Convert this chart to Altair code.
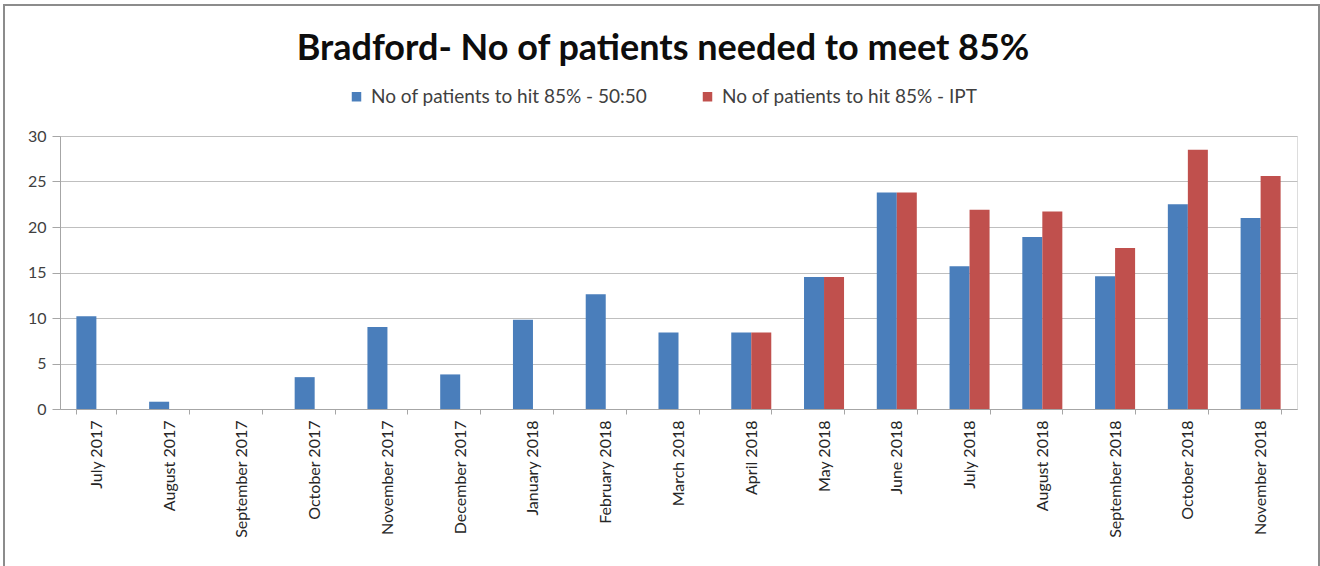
import altair as alt
import pandas as pd

months = [
    "July 2017", "August 2017", "September 2017", "October 2017",
    "November 2017", "December 2017", "January 2018", "February 2018",
    "March 2018", "April 2018", "May 2018", "June 2018", "July 2018",
    "August 2018", "September 2018", "October 2018", "November 2018",
]
series_5050 = "No of patients to hit 85% - 50:50"
series_ipt = "No of patients to hit 85% - IPT"
chart_title = "Bradford- No of patients needed to meet 85%"

# 50:50 split, one value per month
values_5050 = [10.2, 0.8, 0.0, 3.5, 9.0, 3.8, 9.8, 12.6, 8.4, 8.4,
               14.5, 23.8, 15.7, 18.9, 14.6, 22.5, 21.0]
# IPT figures only start in April 2018
ipt_months = months[9:]
values_ipt = [8.4, 14.5, 23.8, 21.9, 21.7, 17.7, 28.5, 25.6]

rows = [{"month": m, "series": series_5050, "value": v} for m, v in zip(months, values_5050)]
rows += [{"month": m, "series": series_ipt, "value": v} for m, v in zip(ipt_months, values_ipt)]
df = pd.DataFrame(rows)

W, H = 1237, 273
FONT = "Lato"

bars = alt.Chart(df).mark_bar().encode(
    x=alt.X(
        "month:N", sort=months, title=None,
        scale=alt.Scale(paddingInner=0.45, paddingOuter=0.225),
        axis=alt.Axis(
            labelAngle=-90, labelAlign="right", labelBaseline="middle",
            labelFontSize=16, labelColor="#262626", labelFont=FONT,
            labelPadding=6, tickBand="extent", tickSize=5,
            tickColor="#a6a6a6", domainColor="#a6a6a6", grid=False,
        ),
    ),
    xOffset=alt.XOffset(
        "series:N", sort=[series_5050, series_ipt],
        scale=alt.Scale(domain=[series_5050, series_ipt], paddingInner=0, paddingOuter=0),
    ),
    y=alt.Y(
        "value:Q", title=None,
        scale=alt.Scale(domain=[0, 30], nice=False),
        axis=alt.Axis(
            values=[0, 5, 10, 15, 20, 25, 30], labelFontSize=16,
            labelColor="#404040", labelFont=FONT, labelPadding=6,
            tickSize=8, tickColor="#a6a6a6", domainColor="#a6a6a6",
            gridColor="#bfbfbf", gridWidth=1.2,
        ),
    ),
    color=alt.Color(
        "series:N",
        scale=alt.Scale(domain=[series_5050, series_ipt], range=["#4a7ebb", "#c0504d"]),
        legend=alt.Legend(
            title=None, orient="none", direction="horizontal",
            legendX=287, legendY=-49, symbolType="square", symbolSize=90,
            symbolStrokeWidth=0, labelFontSize=19, labelFont=FONT,
            labelColor="#404040", columnPadding=50, labelOffset=5,
            labelLimit=500,
        ),
    ),
)

# thin grey frame around the whole chart
frame = alt.Chart(pd.DataFrame({"k": [0]})).mark_rect(
    fill=None, stroke="#8c8c8c", strokeWidth=2
).encode(
    x=alt.value(-56), x2=alt.value(1259), y=alt.value(-131), y2=alt.value(450)
)

# chart heading, centred over the plot
heading = alt.Chart(pd.DataFrame({"t": [chart_title]})).mark_text(
    font=FONT, fontSize=36, fontWeight="bold", color="#0d0d0d",
    align="center", baseline="alphabetic",
).encode(
    text="t:N", x=alt.value(603), y=alt.value(-76)
)

chart = alt.layer(frame, heading, bars).properties(
    width=W, height=H,
    autosize=alt.AutoSizeParams(type="none"),
    padding={"left": 60, "top": 136, "right": 23, "bottom": 157},
).configure_view(stroke=None).configure(background="white")

chart.save("out.html", embed_options={"renderer": "svg", "actions": False})
